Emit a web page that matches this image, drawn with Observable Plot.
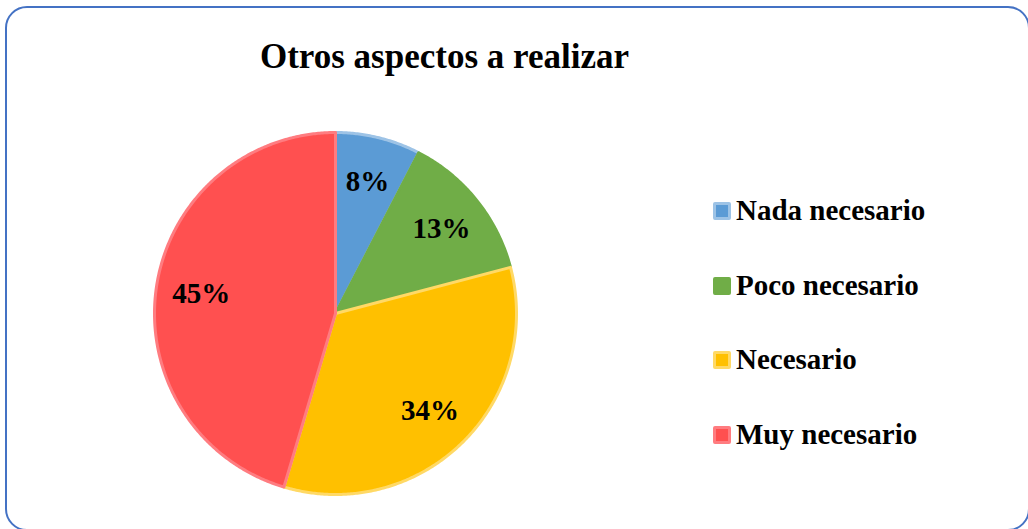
<!DOCTYPE html>
<html>
<head>
<meta charset="utf-8">
<script src="https://cdn.jsdelivr.net/npm/d3@7"></script>
<script src="https://cdn.jsdelivr.net/npm/@observablehq/plot@0.6"></script>
<style>
  html, body { margin: 0; padding: 0; background: #fff; }
  #wrap { position: relative; width: 1028px; height: 529px; overflow: hidden; font-family: "Liberation Serif", "Times New Roman", serif; }
  #frame { position: absolute; left: 5px; top: 6px; width: 1025px; height: 525px; box-sizing: border-box; border: 2px solid #4472C4; border-radius: 22px; }
  #title { position: absolute; left: 0; width: 889px; top: 38.7px; text-align: center; font-size: 35px; line-height: 35px; font-weight: bold; color: #000; white-space: nowrap; }
  #legend { position: absolute; left: 713px; top: 196px; display: flex; flex-direction: column; gap: 45.5px; }
  .item { font-size: 29px; line-height: 29px; font-weight: bold; color: #000; white-space: nowrap; }
  .sw { display: inline-block; width: 18px; height: 18px; box-sizing: border-box; border: 3px solid; border-radius: 2px; margin-right: 5px; }
  #chart { position: absolute; left: 0; top: 0; }
</style>
</head>
<body>
<div id="wrap">
  <div id="chart"></div>
  <div id="frame"></div>
  <div id="title"></div>
  <div id="legend"></div>
</div>
<script>
// ---- data ----
const titleText = "Otros aspectos a realizar";
const categories = ["Nada necesario", "Poco necesario", "Necesario", "Muy necesario"];
const values = [7.6, 13.3, 33.7, 45.4];   // percentages

// ---- styles ----
const fills   = ["#5B9BD5", "#70AD47", "#FFC000", "#FF5050"];
const strokes = ["#9DC3E6", "#70AD47", "#FFD966", "#FF7C80"];

const W = 1028, H = 529, cx = 335, cy = 313, R = 181;

const arcs = d3.pie().sort(null).value(d => d)(values);

function slicePoints(a) {
  const pts = [{x: 0, y: 0}];
  const n = Math.max(2, Math.ceil((a.endAngle - a.startAngle) / (Math.PI / 360)));
  for (let k = 0; k <= n; k++) {
    const t = a.startAngle + (a.endAngle - a.startAngle) * k / n;
    pts.push({x: Math.sin(t), y: Math.cos(t)});
  }
  return pts;
}

const labelData = arcs.map((a, i) => {
  const m = (a.startAngle + a.endAngle) / 2;
  return {x: 0.75 * Math.sin(m), y: 0.75 * Math.cos(m), label: Math.round(values[i]) + "%"};
});

const marks = arcs.map((a, i) =>
  Plot.line(slicePoints(a), {
    x: "x", y: "y", curve: "linear-closed",
    fill: fills[i], stroke: strokes[i], strokeWidth: 3, strokeLinejoin: "round"
  })
);
marks.push(Plot.text(labelData, {
  x: "x", y: "y", text: "label",
  fontSize: 29, fontWeight: "bold", fontFamily: "Liberation Serif, Times New Roman, serif",
  fill: "#000", textAnchor: "middle"
}));

const chart = Plot.plot({
  width: W, height: H, margin: 0,
  x: {axis: null, domain: [-cx / R, (W - cx) / R]},
  y: {axis: null, domain: [-(H - cy) / R, cy / R]},
  style: {background: "transparent", overflow: "visible"},
  marks
});
document.getElementById("chart").append(chart);

document.getElementById("title").textContent = titleText;

const legend = document.getElementById("legend");
categories.forEach((c, i) => {
  const it = document.createElement("div");
  it.className = "item";
  const sw = document.createElement("span");
  sw.className = "sw";
  sw.style.background = fills[i];
  sw.style.borderColor = strokes[i];
  it.append(sw, document.createTextNode(c));
  legend.append(it);
});
</script>
</body>
</html>
